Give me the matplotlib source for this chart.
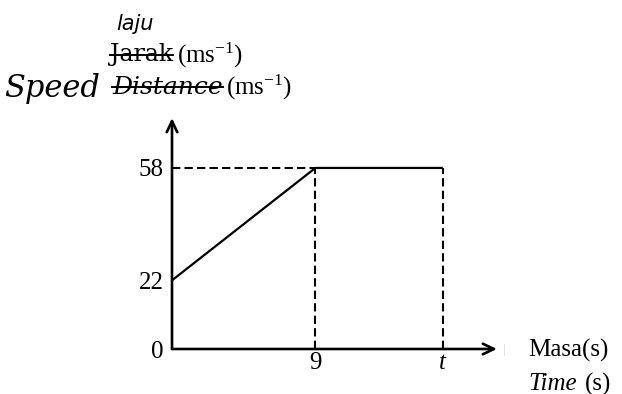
import matplotlib.pyplot as plt
from matplotlib.lines import Line2D

plt.rcParams['font.family'] = ['Liberation Serif', 'DejaVu Serif']
plt.rcParams['mathtext.fontset'] = 'custom'
plt.rcParams['mathtext.rm'] = 'Liberation Serif'
plt.rcParams['mathtext.it'] = 'Liberation Serif:italic'

# speed-time graph values
time = [0, 9, 17]
speed = [22, 58, 58]
y_ticks = [0, 22, 58]
x_ticks = [9, 17]
x_tick_labels = ['9', '$t$']

fig = plt.figure(figsize=(6.22, 3.94), dpi=100)
ax = fig.add_axes([172 / 622, 45 / 394, 325 / 622, 231 / 394])
ax.set_xlim(0, 20.4)
ax.set_ylim(0, 74)

ax.plot(time, speed, color='black', lw=1.6, solid_capstyle='butt')

# dashed guides
ax.plot([0, time[1]], [speed[1], speed[1]], color='black', lw=1.5, ls=(0, (4, 2)))
for tx, sp in zip(time[1:], speed[1:]):
    ax.plot([tx, tx], [0, sp], color='black', lw=1.5, ls=(0, (4, 2)))

for s in ax.spines.values():
    s.set_visible(False)

arrow = dict(arrowstyle='->,head_length=0.8,head_width=0.38', color='black', lw=1.9,
             shrinkA=0, shrinkB=0)
ax.annotate('', xy=(1, 0), xytext=(0, 0), xycoords='axes fraction', arrowprops=arrow)
ax.annotate('', xy=(0, 1), xytext=(0, 0), xycoords='axes fraction', arrowprops=arrow)

ax.set_yticks(y_ticks)
ax.set_yticklabels([str(v) for v in y_ticks])
ax.set_xticks(x_ticks)
ax.set_xticklabels(x_tick_labels)
ax.tick_params(length=0, labelsize=18, pad=6)
ax.tick_params(axis='x', pad=2)

# x axis label (Malay / English)
fig.text(528 / 622, 1 - 350 / 394, 'Masa(s)', fontsize=18, va='center', ha='left')
tt = fig.text(528 / 622, 1 - 384 / 394, 'Time', fontsize=18, style='italic',
              va='center', ha='left')
fig.text(503 / 622, 1 - 350 / 394, '|', fontsize=9, color='#d0d0d0', va='center')

# y axis label with struck-out words and handwritten corrections
fig.text(116 / 622, 1 - 24 / 394, 'laju', fontsize=15, style='italic',
         family=['DejaVu Sans'], va='center')
t1 = fig.text(110 / 622, 1 - 55 / 394, 'Jarak', fontsize=17,
              family=['DejaVu Serif'], va='center')
t2 = fig.text(112 / 622, 1 - 87 / 394, 'Distance', fontsize=18, style='italic',
              family=['DejaVu Serif'], va='center')
fig.text(4 / 622, 1 - 88 / 394, 'Speed', fontsize=22, style='italic',
         family=['DejaVu Serif'], va='center')

fig.canvas.draw()
r = fig.canvas.get_renderer()
W, H = fig.bbox.width, fig.bbox.height
bb = tt.get_window_extent(r)
fig.text(bb.x1 / W + 0.014, (bb.y0 + bb.height / 2) / H, '(s)', fontsize=18, va='center')
for t in (t1, t2):
    bb = t.get_window_extent(r)
    ym = (bb.y0 + bb.height * 0.5) / H
    fig.add_artist(Line2D([bb.x0 / W, bb.x1 / W], [ym, ym], color='black', lw=1.4,
                          transform=fig.transFigure))
    fig.text(bb.x1 / W + 0.006, (bb.y0 + bb.height / 2) / H,
             '(ms$^{\\mathregular{-1}}$)', fontsize=18, va='center')

fig.savefig('out.png', dpi=100)
